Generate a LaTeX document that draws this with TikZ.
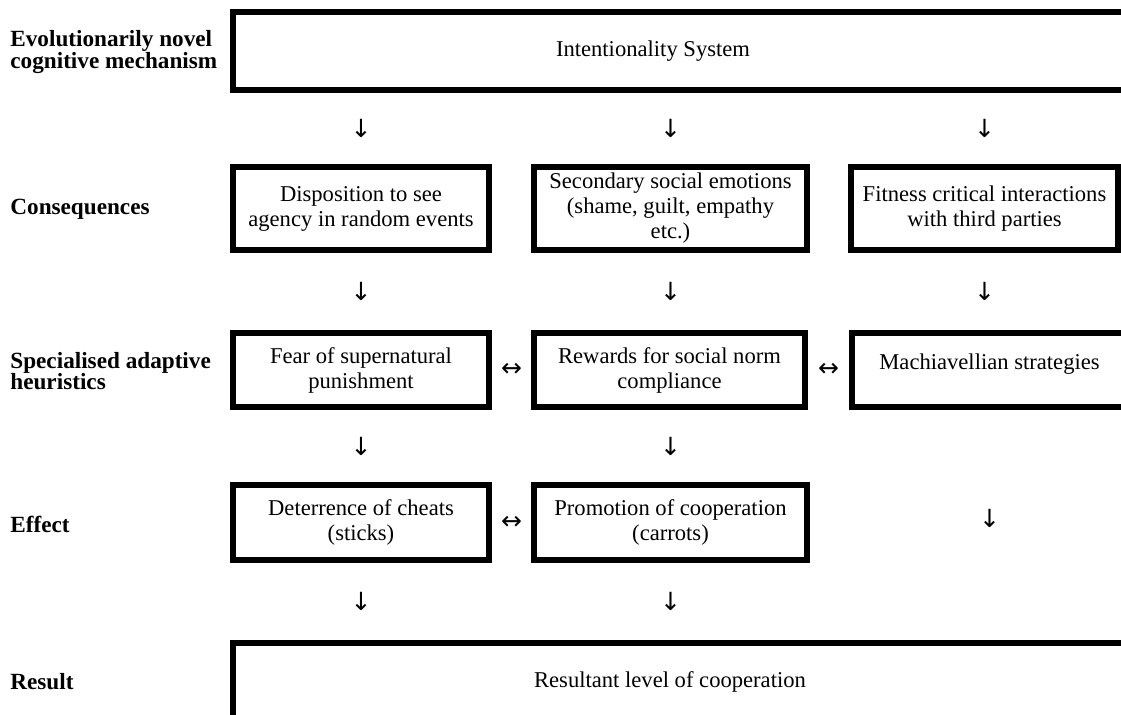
\documentclass[tikz,border=0pt]{standalone}
\usepackage{fontspec}
\setmainfont{Liberation Serif}
\newfontfamily\arrowfont{DejaVu Sans}
\usetikzlibrary{calc}

\tikzset{%
	every box/.style={
		rectangle,
		draw,
		line width=3pt,
		align=center,
		inner sep=0pt
	},
	row label/.style={
		anchor=west,
		align=left,
		inner sep=0pt,
		font=\fontsize{11.6pt}{10.8pt}\selectfont\bfseries
	},
	glyph/.style={
		inner sep=0pt,
		font=\fontsize{12.5pt}{12.5pt}\arrowfont
	},
}

\begin{document}
\begin{tikzpicture}[x=0.5pt, y=-0.5pt, font=\fontsize{11.3pt}{12.5pt}\selectfont]
	\useasboundingbox (0,0) rectangle (1121,715);
	
	% wide boxes, running off the page
	\node [every box, minimum width=452pt, minimum height=39pt,
	label={[xshift=-16pt]center:Intentionality System}] (mechanism) at (685,51) {};
	\node [every box, minimum width=452pt, minimum height=39pt,
	label={[xshift=-7.5pt]center:Resultant level of cooperation}] (result) at (685,682) {};
	
	% consequences
	\node [every box, minimum width=128pt, minimum height=41.5pt] (agency) at (361,208.5)
	{Disposition to see\\agency in random events};
	\node [every box, minimum width=136.5pt, minimum height=41.5pt] (emotions) at (670.5,208.5)
	{Secondary social emotions\\(shame, guilt, empathy\\etc.)};
	\node [every box, minimum width=133.5pt, minimum height=41.5pt] (fitness) at (984.5,208.5)
	{Fitness critical interactions\\with third parties};
	
	% heuristics
	\node [every box, minimum width=128pt, minimum height=37pt] (fear) at (361,370)
	{Fear of supernatural\\punishment};
	\node [every box, minimum width=135.5pt, minimum height=37pt] (rewards) at (669.5,370)
	{Rewards for social norm\\compliance};
	\node [every box, minimum width=137.5pt, minimum height=37pt,
	label={[yshift=3pt]center:Machiavellian strategies}] (machiavel) at (989.5,370) {};
	
	% effect
	\node [every box, minimum width=128pt, minimum height=37.5pt] (sticks) at (361,522.5)
	{Deterrence of cheats\\(sticks)};
	\node [every box, minimum width=136.5pt, minimum height=37.5pt] (carrots) at (670.5,522.5)
	{Promotion of cooperation\\(carrots)};
	
	% row labels
	\foreach \t/\y [count=\i] in {{Evolutionarily novel\\cognitive mechanism}/52, Consequences/209,
		{Specialised adaptive\\heuristics}/371, Effect/524, Result/682}
	\node [row label] (level-\i) at (10,\y) {\t};
	
	% down arrows (upper / lower / column)
	\foreach \u/\l/\c [count=\i] in {mechanism/agency/agency, agency/fear/agency,
		fear/sticks/agency, sticks/result/agency,
		mechanism/emotions/emotions, emotions/rewards/emotions,
		rewards/carrots/emotions, carrots/result/emotions,
		mechanism/fitness/fitness, fitness/machiavel/fitness}
	\node [glyph] (down-\i) at ($(\c.center |- \u.south)!0.5!(\c.center |- \l.north)$) {↓};
	\node [glyph] (down-11) at ($(machiavel |- carrots)+(0,-4)$) {↓};
	
	% two-way arrows
	\foreach \a/\b [count=\i] in {fear/rewards, rewards/machiavel, sticks/carrots}
	\node [glyph] (both-\i) at ($(\a.east)!0.5!(\b.west)$) {↔};
	
\end{tikzpicture}
\end{document}
